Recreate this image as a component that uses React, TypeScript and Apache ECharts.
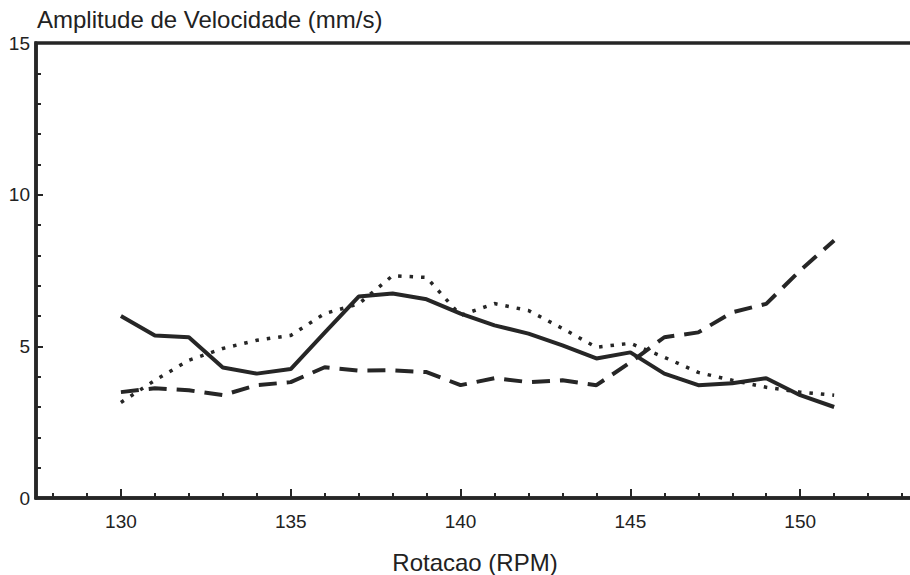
import React, { useEffect, useRef } from "react";
import * as echarts from "echarts";

const rpm = [130, 131, 132, 133, 134, 135, 136, 137, 138, 139, 140, 141, 142, 143, 144, 145, 146, 147, 148, 149, 150, 151];
const solidValues = [6.0, 5.36, 5.3, 4.3, 4.1, 4.25, 5.45, 6.64, 6.74, 6.55, 6.08, 5.69, 5.42, 5.03, 4.6, 4.8, 4.1, 3.72, 3.78, 3.95, 3.39, 3.0];
const dottedValues = [3.15, 3.88, 4.54, 4.93, 5.2, 5.36, 6.08, 6.4, 7.33, 7.27, 6.02, 6.41, 6.18, 5.59, 4.97, 5.1, 4.64, 4.14, 3.88, 3.65, 3.49, 3.39];
const dashedValues = [3.49, 3.62, 3.55, 3.39, 3.72, 3.82, 4.31, 4.2, 4.21, 4.15, 3.72, 3.95, 3.82, 3.88, 3.72, 4.47, 5.3, 5.46, 6.12, 6.4, 7.5, 8.49];
const xTickLabels = [130, 135, 140, 145, 150];
const xMinorTicks = [128, 129, 130, 131, 132, 133, 134, 135, 136, 137, 138, 139, 140, 141, 142, 143, 144, 145, 146, 147, 148, 149, 150, 151, 152, 153, 154, 155];
const titleText = "Amplitude de Velocidade (mm/s)";
const xAxisName = "Rotacao (RPM)";

const INK = "#262626";
const FONT = "Liberation Sans, Arial, sans-serif";

export default function App() {
  const ref = useRef<HTMLDivElement>(null);
  useEffect(() => {
    if (!ref.current) return;
    const chart = echarts.init(ref.current, undefined, { renderer: "svg" });
    const pairs = (vals: number[]) => rpm.map((x, i) => [x, vals[i]]);
    const axisCommon = {
      type: "value" as const,
      min: 127.5,
      max: 155,
      splitLine: { show: false },
    };
    chart.setOption({
      animation: false,
      backgroundColor: "#ffffff",
      grid: {
        left: 36,
        top: 43,
        right: 0,
        bottom: 77,
        show: true,
        borderColor: INK,
        borderWidth: 3.5,
        backgroundColor: "transparent",
      },
      xAxis: [
        {
          ...axisCommon,
          position: "bottom",
          axisLine: { show: true, lineStyle: { color: INK, width: 3.5 } },
          axisTick: { show: true, inside: true, length: 5, customValues: xMinorTicks, lineStyle: { color: INK, width: 2 } },
          axisLabel: { show: true, customValues: xTickLabels, fontSize: 19, margin: 14, color: "#222", fontFamily: FONT },
        },
        {
          ...axisCommon,
          position: "bottom",
          axisLine: { show: false },
          axisTick: { show: true, inside: true, length: 9, customValues: xTickLabels, lineStyle: { color: INK, width: 2 } },
          axisLabel: { show: false },
        },
      ],
      yAxis: {
        type: "value",
        min: 0,
        max: 15,
        interval: 5,
        splitLine: { show: false },
        axisLine: { show: true, lineStyle: { color: INK, width: 3.5 } },
        axisTick: { show: true, inside: true, length: 7, lineStyle: { color: INK, width: 2 } },
        minorTick: { show: true, splitNumber: 5, length: 5, lineStyle: { color: INK, width: 2 } },
        axisLabel: { fontSize: 19, margin: 6, color: "#222", fontFamily: FONT },
      },
      graphic: [
        {
          type: "text",
          left: 37,
          top: 7,
          style: { text: titleText, fontSize: 24, fill: "#222", fontFamily: FONT },
        },
        {
          type: "text",
          x: 475,
          y: 562,
          style: { text: xAxisName, fontSize: 24, fill: "#222", fontFamily: FONT, align: "center", verticalAlign: "middle" },
        },
      ],
      series: [
        {
          type: "line",
          name: "solid",
          data: pairs(solidValues),
          showSymbol: false,
          symbol: "none",
          lineStyle: { color: INK, width: 4, type: "solid" },
        },
        {
          type: "line",
          name: "dotted",
          data: pairs(dottedValues),
          showSymbol: false,
          symbol: "none",
          lineStyle: { color: INK, width: 3.5, type: [3.5, 8] },
        },
        {
          type: "line",
          name: "dashed",
          data: pairs(dashedValues),
          showSymbol: false,
          symbol: "none",
          lineStyle: { color: INK, width: 4, type: [18, 10] },
        },
      ],
    });
    return () => chart.dispose();
  }, []);
  return <div ref={ref} style={{ position: "fixed", left: 0, top: 0, width: 970, height: 575 }} />;
}
